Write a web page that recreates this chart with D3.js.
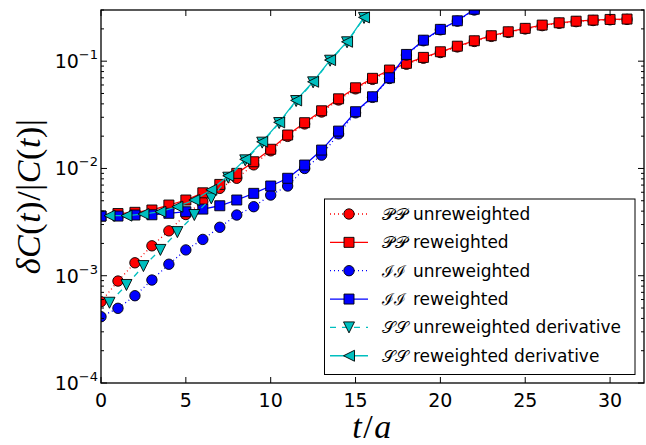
<!DOCTYPE html>
<html><head><meta charset="utf-8">
<script src="https://cdn.jsdelivr.net/npm/d3@7"></script>
<style>body{margin:0;background:#fff} svg{display:block}</style>
</head><body>
<script>
// ---------- data ----------
const tPP = [0,1,2,3,4,5,6,7,8,9,10,11,12,13,14,15,16,17,18,19,20,21,22,23,24,25,26,27,28,29,30,31];
const ppUnrew = [0.000573,0.000892,0.00132,0.0019,0.00262,0.00372,0.0049,0.00652,0.0081,0.0108,0.0146,0.0199,0.0260,0.0336,0.0435,0.0552,0.0677,0.0810,0.0937,0.1066,0.1204,0.1358,0.1527,0.1702,0.1855,0.1998,0.2145,0.2256,0.2337,0.2394,0.2430,0.2452];
const ppRew = [0.0036,0.0038,0.0039,0.0041,0.00456,0.00508,0.00593,0.0071,0.0090,0.01155,0.0151,0.0205,0.0267,0.0345,0.0446,0.0565,0.0692,0.0827,0.0955,0.1085,0.1224,0.138,0.155,0.1727,0.188,0.2023,0.217,0.228,0.236,0.2416,0.245,0.247];
const tII = [0,1,2,3,4,5,6,7,8,9,10,11,12,13,14,15,16,17,18,19,20,21,22];
const iiUnrew = [0.000415,0.000497,0.000651,0.000912,0.00128,0.00174,0.00218,0.00283,0.00368,0.0044,0.00565,0.00686,0.0100,0.0133,0.021,0.033,0.046,0.069,0.114,0.155,0.196,0.236,0.30];
const iiRew = [0.0036,0.0036,0.00368,0.0037,0.00382,0.00395,0.00418,0.00449,0.00508,0.00586,0.00686,0.0081,0.01076,0.01484,0.0223,0.0338,0.0466,0.070,0.1156,0.157,0.198,0.238,0.305];
const tSS = [0.5,1.5,2.5,3.5,4.5,5.5,6.5,7.5,8.5,9.5,10.5,11.5,12.5,13.5,14.5,15.5];
const ssUnrew = [0.00056,0.00082,0.00123,0.00174,0.00255,0.00368,0.00526,0.0082,0.0119,0.0174,0.0265,0.0425,0.0635,0.101,0.150,0.253];
const ssRew = [0.00363,0.00363,0.00376,0.00395,0.0044,0.00508,0.00633,0.00855,0.01216,0.01774,0.0269,0.0431,0.0643,0.1024,0.1517,0.256];

const xTicks = [0,5,10,15,20,25,30];
const yMajor = [1e-4,1e-3,1e-2,1e-1];
const yExp = ["\u22124","\u22123","\u22122","\u22121"];

const series = [
  {name:"unreweighted", cal:"\uD835\uDCAB\uD835\uDCAB", t:tPP, v:ppUnrew, color:"#ff0000", dash:"1,3", marker:"circle"},
  {name:"reweighted", cal:"\uD835\uDCAB\uD835\uDCAB", t:tPP, v:ppRew, color:"#ff0000", dash:null, marker:"square"},
  {name:"unreweighted", cal:"\u2110\u2110", t:tII, v:iiUnrew, color:"#0000ff", dash:"1,3", marker:"circle"},
  {name:"reweighted", cal:"\u2110\u2110", t:tII, v:iiRew, color:"#0000ff", dash:null, marker:"square"},
  {name:"unreweighted derivative", cal:"\uD835\uDCAE\uD835\uDCAE", t:tSS, v:ssUnrew, color:"#00bfbf", dash:"6,6", marker:"down"},
  {name:"reweighted derivative", cal:"\uD835\uDCAE\uD835\uDCAE", t:tSS, v:ssRew, color:"#00bfbf", dash:null, marker:"left"}
];

// ---------- layout ----------
const W = 646, H = 445;
const L = 101, R = 644, T = 10, B = 383;
const x = d3.scaleLinear().domain([0,32]).range([L,R]);
const y = d3.scaleLog().domain([1e-4,0.3]).range([B,T]);

const svg = d3.select("body").append("svg").attr("width",W).attr("height",H);
svg.append("defs").append("clipPath").attr("id","clip")
  .append("rect").attr("x",L).attr("y",T).attr("width",R-L).attr("height",B-T);

const s = 5.5;
const markerPath = {
  circle: `M${-5.2},0A5.2,5.2 0 1,0 5.2,0A5.2,5.2 0 1,0 ${-5.2},0Z`,
  square: `M-5,-5H5V5H-5Z`,
  down: `M${-s},${-s}L${s},${-s}L0,${s}Z`,
  left: `M${-s},0L${s},${-s}L${s},${s}Z`
};

const plot = svg.append("g").attr("clip-path","url(#clip)");
const line = d3.line().x(d=>x(d[0])).y(d=>y(d[1]));
series.forEach(se => {
  const pts = se.t.map((t,i)=>[t,se.v[i]]);
  const g = plot.append("g");
  g.append("path").attr("d",line(pts)).attr("fill","none")
    .attr("stroke",se.color).attr("stroke-width",1.3)
    .attr("stroke-dasharray",se.dash);
  g.selectAll("path.m").data(pts).enter().append("path").attr("class","m")
    .attr("d",markerPath[se.marker])
    .attr("transform",d=>`translate(${x(d[0])},${y(d[1])})`)
    .attr("fill",se.color).attr("stroke","#000").attr("stroke-width",0.9);
});

// ---------- axes ----------
const axG = svg.append("g").attr("stroke","#000").attr("stroke-width",1);
const minors = y.ticks().filter(v => !yMajor.some(m => Math.abs(m-v)/m < 1e-6));
xTicks.forEach(t => {
  axG.append("line").attr("x1",x(t)).attr("x2",x(t)).attr("y1",B).attr("y2",B-6);
  axG.append("line").attr("x1",x(t)).attr("x2",x(t)).attr("y1",T).attr("y2",T+6);
});
yMajor.forEach(v => {
  axG.append("line").attr("x1",L).attr("x2",L+6).attr("y1",y(v)).attr("y2",y(v));
  axG.append("line").attr("x1",R).attr("x2",R-6).attr("y1",y(v)).attr("y2",y(v));
});
minors.forEach(v => {
  axG.append("line").attr("x1",L).attr("x2",L+3).attr("y1",y(v)).attr("y2",y(v));
  axG.append("line").attr("x1",R).attr("x2",R-3).attr("y1",y(v)).attr("y2",y(v));
});
svg.append("rect").attr("x",L).attr("y",T).attr("width",R-L).attr("height",B-T)
  .attr("fill","none").attr("stroke","#000").attr("stroke-width",1.3);

const font = "DejaVu Sans";
xTicks.forEach(t => {
  svg.append("text").attr("x",x(t)).attr("y",406.5).attr("text-anchor","middle")
    .attr("font-family",font).attr("font-size",19).text(t);
});
yMajor.forEach((v,i) => {
  const tx = svg.append("text").attr("x",98).attr("y",y(v)+7).attr("text-anchor","end")
    .attr("font-family",font).attr("font-size",19);
  tx.append("tspan").text("10");
  tx.append("tspan").attr("dy",-9).attr("font-size",13).text(yExp[i]);
});

// axis labels
const serif = "Liberation Serif";
const xl = svg.append("text").attr("x",(L+R)/2).attr("y",438).attr("text-anchor","middle")
  .attr("font-family",serif).attr("font-size",34).attr("letter-spacing",1.5);
xl.append("tspan").attr("font-style","italic").text("t");
xl.append("tspan").text("/");
xl.append("tspan").attr("font-style","italic").text("a");

const yl = svg.append("text").attr("transform",`translate(40,${(T+B)/2}) rotate(-90)`)
  .attr("text-anchor","middle").attr("font-family",serif).attr("font-size",34).attr("letter-spacing",0.6);
[["δ",1],["C",1],["(",0],["t",1],[")",0],["/",0],["|",0],["C",1],["(",0],["t",1],[")",0],["|",0]]
  .forEach(([c,it]) => yl.append("tspan").attr("font-style",it?"italic":"normal").text(c));

// ---------- legend ----------
const lg = svg.append("g");
lg.append("rect").attr("x",324.5).attr("y",199).attr("width",310.5).attr("height",175.5)
  .attr("fill","#fff").attr("stroke","#000").attr("stroke-width",1);
series.forEach((se,i) => {
  const cy = 214 + i*28.35;
  lg.append("line").attr("x1",330).attr("x2",368).attr("y1",cy).attr("y2",cy)
    .attr("stroke",se.color).attr("stroke-width",1.3).attr("stroke-dasharray",se.dash);
  lg.append("path").attr("d",markerPath[se.marker]).attr("transform",`translate(349,${cy})`)
    .attr("fill",se.color).attr("stroke","#000").attr("stroke-width",0.9);
  lg.append("text").attr("x",382).attr("y",cy+6)
    .attr("font-family","DejaVu Serif, Liberation Serif")
    .attr("font-size",16).attr("textLength",se.cal.length > 2 ? 26 : 24)
    .attr("lengthAdjust","spacingAndGlyphs").text(se.cal);
  lg.append("text").attr("x",413).attr("y",cy+6).attr("font-family",font)
    .attr("font-size",17).text(se.name);
});
</script>
</body></html>
